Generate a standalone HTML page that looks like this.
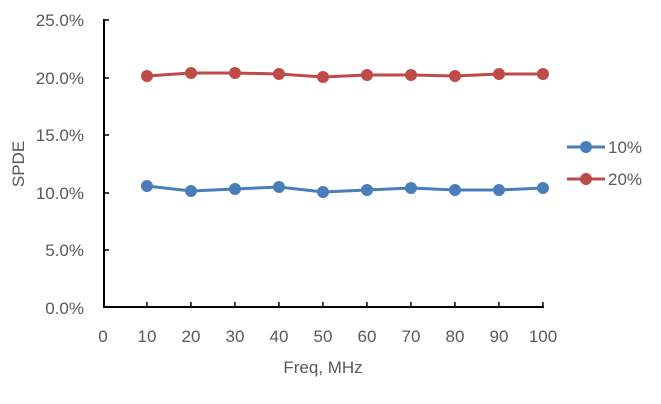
<!DOCTYPE html>
<html><head><style>body{margin:0;background:#fff}svg{display:block}</style></head><body>
<svg width="661" height="404" xmlns="http://www.w3.org/2000/svg" font-family="Liberation Sans, sans-serif" font-size="17" fill="#595959">
<g stroke="#000" stroke-width="2" fill="none">
<line x1="104" y1="19" x2="104" y2="308"/>
<line x1="103" y1="307" x2="544" y2="307"/>
<g stroke-width="1.5">
<line x1="104" y1="20" x2="109" y2="20"/><line x1="104" y1="78" x2="109" y2="78"/><line x1="104" y1="135" x2="109" y2="135"/><line x1="104" y1="193" x2="109" y2="193"/><line x1="104" y1="250" x2="109" y2="250"/>
<line x1="147" y1="307" x2="147" y2="302"/><line x1="191" y1="307" x2="191" y2="302"/><line x1="235" y1="307" x2="235" y2="302"/><line x1="279" y1="307" x2="279" y2="302"/><line x1="323" y1="307" x2="323" y2="302"/><line x1="367" y1="307" x2="367" y2="302"/><line x1="411" y1="307" x2="411" y2="302"/><line x1="455" y1="307" x2="455" y2="302"/><line x1="499" y1="307" x2="499" y2="302"/><line x1="543" y1="307" x2="543" y2="302"/>
</g></g>
<g text-anchor="end"><text x="84" y="26">25.0%</text><text x="84" y="84">20.0%</text><text x="84" y="141">15.0%</text><text x="84" y="199">10.0%</text><text x="84" y="256">5.0%</text><text x="84" y="314">0.0%</text></g>
<g text-anchor="middle"><text x="103" y="342">0</text><text x="147" y="342">10</text><text x="191" y="342">20</text><text x="235" y="342">30</text><text x="279" y="342">40</text><text x="323" y="342">50</text><text x="367" y="342">60</text><text x="411" y="342">70</text><text x="455" y="342">80</text><text x="499" y="342">90</text><text x="543" y="342">100</text>
<text x="323" y="373">Freq, MHz</text>
<text transform="translate(24,164) rotate(-90)">SPDE</text></g>
<polyline fill="none" stroke="#4a7ebb" stroke-width="3" points="147,186 191,191 235,189 279,187 323,192 367,190 411,188 455,190 499,190 543,188"/>
<g fill="#4a7ebb"><circle cx="147" cy="186" r="6"/><circle cx="191" cy="191" r="6"/><circle cx="235" cy="189" r="6"/><circle cx="279" cy="187" r="6"/><circle cx="323" cy="192" r="6"/><circle cx="367" cy="190" r="6"/><circle cx="411" cy="188" r="6"/><circle cx="455" cy="190" r="6"/><circle cx="499" cy="190" r="6"/><circle cx="543" cy="188" r="6"/></g>
<polyline fill="none" stroke="#be4b48" stroke-width="3" points="147,76 191,73 235,73 279,74 323,77 367,75 411,75 455,76 499,74 543,74"/>
<g fill="#be4b48"><circle cx="147" cy="76" r="6"/><circle cx="191" cy="73" r="6"/><circle cx="235" cy="73" r="6"/><circle cx="279" cy="74" r="6"/><circle cx="323" cy="77" r="6"/><circle cx="367" cy="75" r="6"/><circle cx="411" cy="75" r="6"/><circle cx="455" cy="76" r="6"/><circle cx="499" cy="74" r="6"/><circle cx="543" cy="74" r="6"/></g>
<line x1="567" y1="147" x2="605" y2="147" stroke="#4a7ebb" stroke-width="3"/><circle cx="586" cy="147" r="6" fill="#4a7ebb"/>
<line x1="567" y1="179" x2="605" y2="179" stroke="#be4b48" stroke-width="3"/><circle cx="586" cy="179" r="6" fill="#be4b48"/>
<text x="608" y="153">10%</text><text x="608" y="185">20%</text>
</svg>
</body></html>
